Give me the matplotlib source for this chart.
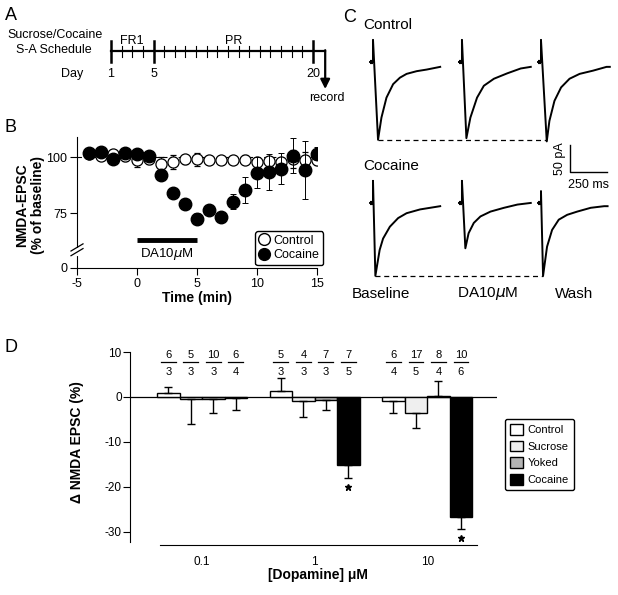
import matplotlib
matplotlib.use('Agg')
import matplotlib.pyplot as plt
from matplotlib.patches import Patch
from matplotlib.lines import Line2D
import numpy as np

plt.rcParams['font.family'] = ['Liberation Sans', 'DejaVu Sans']
plt.rcParams['axes.unicode_minus'] = False

# ---- panel A: schedule ----
days = np.arange(1, 21)
major_days = [1, 5, 20]
phases = ['FR1', 'PR']
phase_mid = [3, 12.5]

# ---- panel B: time course ----
minutes = np.arange(-4, 16)
control_pct = [101.2, 100.7, 101.5, 100.4, 98.5, 99.3, 97.1, 97.8, 99.0, 99.0,
               98.8, 98.5, 98.8, 98.8, 97.8, 98.2, 97.8, 99.3, 98.5, 98.5]
control_err = [1, 1, 1, 2, 3, 2.5, 3, 3, 2, 3, 1.5, 1.5, 1.5, 2, 2, 1.5, 2, 4, 4, 2]
cocaine_pct = [101.8, 102.2, 99.3, 101.9, 101.2, 100.6, 91.9, 83.8, 79.0, 72.5,
               76.5, 73.2, 80.1, 85.3, 93.1, 93.4, 94.9, 100.7, 94.4, 101.5]
cocaine_err = [1, 1, 1.5, 1.5, 2, 2, 2, 2, 2, 2.5, 2, 2, 3.5, 6, 7, 8, 7, 8, 13, 3]
da_on, da_off = 0, 5

# ---- panel C: example traces (ms, pA) ----
ctrl_base_t = [-20, 0, 0, 34, 57, 91, 136, 182, 227, 295, 363, 454]
ctrl_base_i = [0, 0, 41, -144, -103, -66, -41, -29, -22, -17, -14, -9]
ctrl_da_t = [-20, 0, 0, 30, 57, 102, 148, 216, 306, 397, 465]
ctrl_da_i = [0, 0, 41, -141, -103, -66, -44, -31, -21, -12, -9]
ctrl_wash_t = [-20, 0, 0, 39, 57, 91, 136, 193, 261, 352, 443, 465]
ctrl_wash_i = [0, 0, 41, -147, -109, -72, -47, -31, -22, -16, -9, -9]
coc_base_t = [-20, 0, 0, 16, 45, 68, 114, 170, 227, 318, 386, 454]
coc_base_i = [0, 0, 41, -135, -87, -66, -44, -28, -19, -12, -9, -6]
coc_da_t = [-20, 0, 0, 23, 45, 80, 125, 193, 284, 375, 465]
coc_da_i = [0, 0, 41, -84, -56, -37, -25, -16, -9, -3, 0]
coc_wash_t = [-20, 0, 0, 14, 41, 75, 120, 177, 245, 336, 427, 450]
coc_wash_i = [0, 0, 22, -135, -81, -50, -31, -22, -16, -9, -6, -6]
conditions = ['Baseline', 'DA10$\\mu$M', 'Wash']

# ---- panel D: dopamine dose ----
doses = ['0.1', '1', '10']
groups = ['Control', 'Sucrose', 'Yoked', 'Cocaine']
group_colors = ['white', '#efefef', '#b4b4b4', 'black']
control_chg = [1.0, 1.35, -1.0]
sucrose_chg = [-0.5, -1.0, -3.5]
yoked_chg = [-0.5, -0.6, 0.3]
cocaine_chg = [-0.3, -15.2, -26.8]
control_sem = [1.3, 2.8, 2.6]
sucrose_sem = [5.5, 3.5, 3.3]
yoked_sem = [3.1, 2.4, 3.2]
cocaine_sem = [2.5, 2.8, 2.7]
n_cells = [[6, 5, 10, 6], [5, 4, 7, 7], [6, 17, 8, 10]]
n_rats = [[3, 3, 3, 4], [3, 3, 3, 5], [4, 5, 4, 6]]
signif = [(1, 3), (2, 3)]

W, H = 618, 595
fig = plt.figure(figsize=(W / 100, H / 100), dpi=100)


def rect(x0, y0, x1, y1):
    return [x0 / W, 1 - y1 / H, (x1 - x0) / W, (y1 - y0) / H]


def ftext(x, y, s, **kw):
    fig.text(x / W, 1 - y / H, s, **kw)


# panel letters
ftext(5, 16, 'A', fontsize=13, va='center')
ftext(5, 128, 'B', fontsize=13, va='center')
ftext(343, 17, 'C', fontsize=13, va='center')
ftext(5, 348, 'D', fontsize=13, va='center')

# ================= A =================
ax_a = fig.add_axes(rect(0, 0, 340, 110))
ax_a.set_xlim(1 - 111 / 10.63, 1 + 229 / 10.63)
ax_a.set_ylim(110, 0)
ax_a.axis('off')
ax_a.plot([days[0], days[-1] + 1.15], [51, 51], color='k', lw=1.6)
for d in days:
    if d in major_days:
        ax_a.plot([d, d], [41, 62], color='k', lw=1.8)
        ax_a.text(d, 74, str(d), ha='center', va='center', fontsize=9)
    else:
        ax_a.plot([d, d], [46, 57], color='k', lw=0.8)
ax_a.annotate('', xy=(days[-1] + 1.15, 89), xytext=(days[-1] + 1.15, 50.2),
              arrowprops=dict(arrowstyle='-|>', lw=1.6, color='k', mutation_scale=14,
                              shrinkA=0, shrinkB=0))
for p, m in zip(phases, phase_mid):
    ax_a.text(m, 41, p, ha='center', va='center', fontsize=9)
ax_a.text(days[-1] + 1.3, 98, 'record', ha='center', va='center', fontsize=9)
ftext(55, 35, 'Sucrose/Cocaine', ha='center', va='center', fontsize=9)
ftext(54, 50, 'S-A Schedule', ha='center', va='center', fontsize=9)
ftext(72, 74, 'Day', ha='center', va='center', fontsize=9)

# ================= B =================
y_zero = 50.4
ax_b = fig.add_axes(rect(77, 137, 317, 268))
ax_b.set_xlim(-5, 15)
ax_b.set_ylim(y_zero, 109)
for s in ['top', 'right']:
    ax_b.spines[s].set_visible(False)
ax_b.axhline(100, color='k', lw=0.8, ls=(0, (4, 3)), zorder=0)
ax_b.errorbar(minutes, control_pct, yerr=control_err, fmt='o', ms=8, mfc='white',
              mec='k', mew=0.9, ecolor='k', elinewidth=0.7, capsize=2, capthick=0.7, zorder=2)
ax_b.errorbar(minutes, cocaine_pct, yerr=cocaine_err, fmt='o', ms=9, mfc='k',
              mec='k', ecolor='k', elinewidth=0.7, capsize=2, capthick=0.7, zorder=3)
ax_b.plot([da_on, da_off], [63, 63], color='k', lw=3.5, solid_capstyle='butt')
ax_b.text((da_on + da_off) / 2, 56.5, 'DA10$\\mu$M', ha='center', va='center', fontsize=9.5)
ax_b.set_xticks([-5, 0, 5, 10, 15])
ax_b.set_yticks([y_zero, 75, 100])
ax_b.set_yticklabels(['0', '75', '100'])
ax_b.tick_params(direction='out', length=5, labelsize=9, pad=2)
# axis break
tr = ax_b.get_yaxis_transform()
ax_b.plot([0, 0], [56.6, 58.6], color='white', lw=3, transform=tr, clip_on=False, zorder=5)
for yb in (55.9, 58.0):
    ax_b.plot([-0.025, 0.025], [yb, yb + 3.2], color='k', lw=0.9, transform=tr,
              clip_on=False, zorder=6)
ftext(197, 298, 'Time (min)', ha='center', va='center', fontsize=10, fontweight='bold')
ftext(30, 205, 'NMDA-EPSC\n(% of baseline)', ha='center', va='center', fontsize=10,
      fontweight='bold', rotation=90, linespacing=1.1)
h_b = [Line2D([], [], marker='o', ls='', mfc='white', mec='k', ms=8.5),
       Line2D([], [], marker='o', ls='', mfc='k', mec='k', ms=8.5)]
leg = ax_b.legend(h_b, ['Control', 'Cocaine'], loc='upper left',
                  bbox_to_anchor=(255 / W, 1 - 231 / H), bbox_transform=fig.transFigure,
                  fontsize=9, handlelength=0.8, handletextpad=0.4, borderpad=0.3,
                  labelspacing=0.2, borderaxespad=0, fancybox=True, framealpha=1,
                  edgecolor='k')
leg.get_frame().set_linewidth(1.0)

# ================= C =================
ax_c = fig.add_axes(rect(355, 30, 615, 290))
ax_c.set_xlim((355 - 373) / 0.148, (615 - 373) / 0.148)
ax_c.set_ylim(-(290 - 62) / 0.54, (62 - 30) / 0.54)
ax_c.axis('off')
col_x = [0, 601, 1135]
row_y = [0, -261]
rows = [[(ctrl_base_t, ctrl_base_i), (ctrl_da_t, ctrl_da_i), (ctrl_wash_t, ctrl_wash_i)],
        [(coc_base_t, coc_base_i), (coc_da_t, coc_da_i), (coc_wash_t, coc_wash_i)]]
for r, row in enumerate(rows):
    for c, (t, i) in enumerate(row):
        t = np.array(t) + col_x[c]
        i = np.array(i) + row_y[r]
        ax_c.plot(t, i, color='k', lw=1.4)
        ax_c.plot(t[:2], i[:2], color='k', lw=3, solid_capstyle='butt')
    # dashed line at baseline peak
    t0 = np.array(row[0][0]); i0 = np.array(row[0][1])
    t2 = np.array(row[2][0]); i2 = np.array(row[2][1])
    ax_c.plot([t0[np.argmin(i0)] + col_x[0], t2[np.argmin(i2)] + col_x[2]],
              [i0.min() + row_y[r]] * 2, color='k', lw=0.9, ls=(0, (4, 3)))
# scale bar 50 pA / 250 ms
sx, sy = 1331, -204
ax_c.plot([sx, sx, sx + 250], [sy + 50, sy, sy], color='k', lw=1.0)
ax_c.text(sx - 25, sy + 25, '50 pA', rotation=90, ha='right', va='center', fontsize=9)
ax_c.text(sx + 125, sy - 12, '250 ms', ha='center', va='top', fontsize=9)
ftext(363, 25, 'Control', ha='left', va='center', fontsize=11)
ftext(363, 166, 'Cocaine', ha='left', va='center', fontsize=11)
for x, s in zip([381, 488, 574], conditions):
    ftext(x, 294, s, ha='center', va='center', fontsize=11)

# ================= D =================
ax_d = fig.add_axes(rect(130, 345, 497, 545))
ax_d.set_xlim(-1.2, 15.1)
ax_d.set_ylim(-32.96, 11.58)
for s in ['top', 'right']:
    ax_d.spines[s].set_visible(False)
ax_d.spines['left'].set_bounds(-32.3, 10)
ax_d.spines['bottom'].set_bounds(0.13, 14.2)
ax_d.axhline(0, color='k', lw=0.9, zorder=1)
vals = [control_chg, sucrose_chg, yoked_chg, cocaine_chg]
sems = [control_sem, sucrose_sem, yoked_sem, cocaine_sem]
for g in range(4):
    xs = np.arange(3) * 5 + g + 0.5
    v = np.array(vals[g]); e = np.array(sems[g])
    ax_d.bar(xs, v, width=1, color=group_colors[g], edgecolor='k', lw=1, zorder=2)
    yerr = [np.where(v < 0, e, 0), np.where(v >= 0, e, 0)]
    ax_d.errorbar(xs, v, yerr=yerr, fmt='none', ecolor='k', elinewidth=1,
                  capsize=3, capthick=1, zorder=3)
for d in range(3):
    for g in range(4):
        x = d * 5 + g + 0.5
        ax_d.text(x, 9.3, str(n_cells[d][g]), ha='center', va='center', fontsize=8)
        ax_d.plot([x - 0.33, x + 0.33], [7.9, 7.9], color='k', lw=0.9)
        ax_d.text(x, 5.6, str(n_rats[d][g]), ha='center', va='center', fontsize=8)
for d, g in signif:
    x = d * 5 + g + 0.5
    ax_d.plot(x, vals[g][d] - sems[g][d] - 2.0, marker='*', color='k', ms=5, ls='')
ax_d.set_xticks([2, 7, 12])
ax_d.set_xticklabels(doses)
ax_d.set_yticks([-30, -20, -10, 0, 10])
ax_d.tick_params(axis='y', direction='out', length=5, labelsize=8.5, pad=1)
ax_d.tick_params(axis='x', length=0, labelsize=8.5, pad=8)
ftext(318, 575, '[Dopamine] μM', ha='center', va='center', fontsize=10, fontweight='bold')
ftext(77, 442, 'Δ NMDA EPSC (%)', ha='center', va='center', fontsize=10,
      fontweight='bold', rotation=90)
h_d = [Patch(facecolor=c, edgecolor='k', lw=1) for c in group_colors]
leg_d = ax_d.legend(h_d, groups, loc='upper left',
                    bbox_to_anchor=(505 / W, 1 - 419 / H), bbox_transform=fig.transFigure,
                    fontsize=8, handlelength=1.2, handleheight=1.1, handletextpad=0.4,
                    borderpad=0.45, labelspacing=0.5, borderaxespad=0, fancybox=True,
                    framealpha=1, edgecolor='k')
leg_d.get_frame().set_linewidth(1.0)

fig.savefig('out.png', dpi=100)
